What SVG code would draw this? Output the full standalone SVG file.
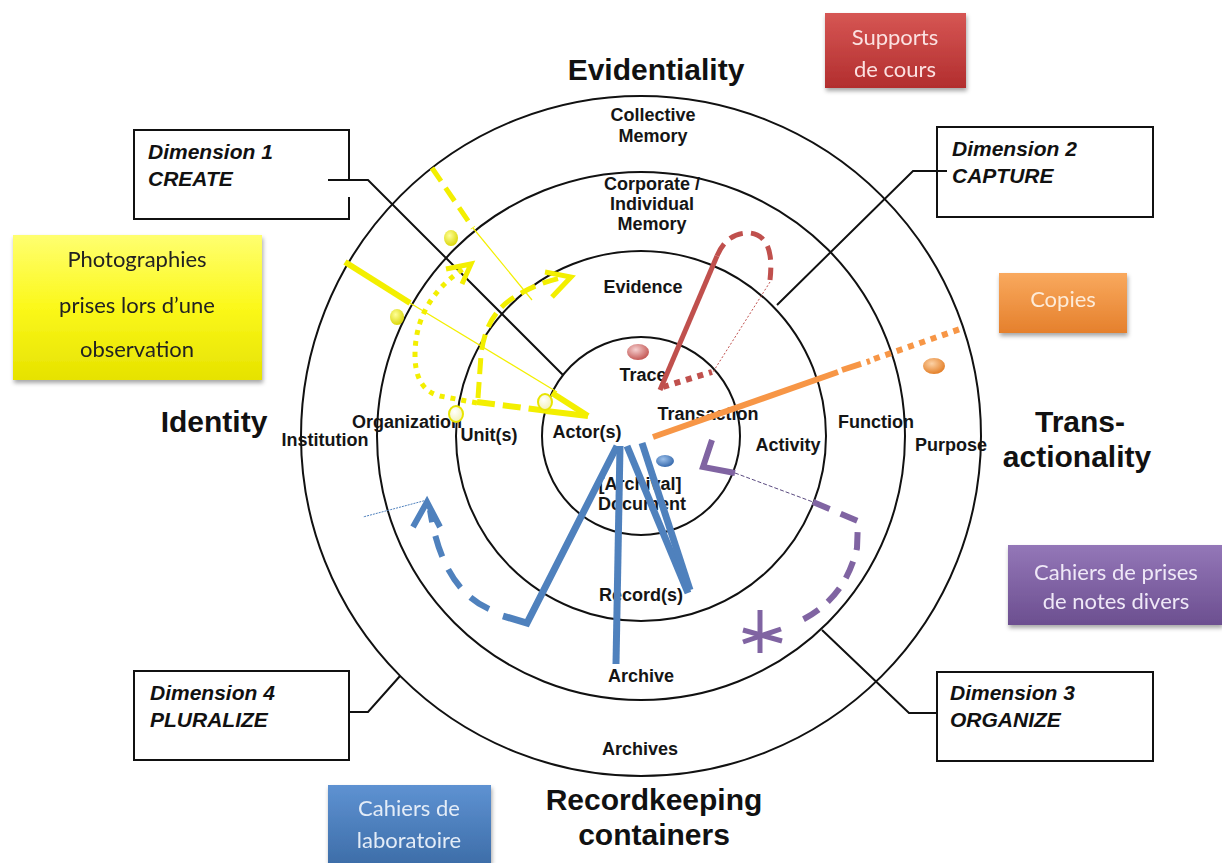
<svg xmlns="http://www.w3.org/2000/svg" width="1222" height="863" viewBox="0 0 1222 863">
<defs>
  <linearGradient id="gRed" x1="0" y1="0" x2="0" y2="1"><stop offset="0" stop-color="#d65654"/><stop offset="1" stop-color="#b22e2e"/></linearGradient>
  <linearGradient id="gOrange" x1="0" y1="0" x2="0" y2="1"><stop offset="0" stop-color="#f9a95e"/><stop offset="1" stop-color="#e5802c"/></linearGradient>
  <linearGradient id="gPurple" x1="0" y1="0" x2="0" y2="1"><stop offset="0" stop-color="#9477b8"/><stop offset="1" stop-color="#6c4f90"/></linearGradient>
  <linearGradient id="gBlue" x1="0" y1="0" x2="0" y2="1"><stop offset="0" stop-color="#5e92d2"/><stop offset="1" stop-color="#3e6ea9"/></linearGradient>
  <linearGradient id="gYellow" x1="0" y1="0" x2="0" y2="1"><stop offset="0" stop-color="#ffff70"/><stop offset="0.5" stop-color="#fbf81a"/><stop offset="1" stop-color="#e6e200"/></linearGradient>
  <radialGradient id="dRed" cx="0.4" cy="0.35" r="0.7"><stop offset="0" stop-color="#f6d0d0"/><stop offset="1" stop-color="#c0504d"/></radialGradient>
  <radialGradient id="dOrange" cx="0.4" cy="0.35" r="0.7"><stop offset="0" stop-color="#fcd2a6"/><stop offset="1" stop-color="#e27a20"/></radialGradient>
  <radialGradient id="dBlue" cx="0.4" cy="0.35" r="0.7"><stop offset="0" stop-color="#9cc0ea"/><stop offset="1" stop-color="#2f63a8"/></radialGradient>
  <radialGradient id="dYellow" cx="0.4" cy="0.35" r="0.7"><stop offset="0" stop-color="#ffff9a"/><stop offset="1" stop-color="#d8d400"/></radialGradient>
  <radialGradient id="dWhite" cx="0.4" cy="0.35" r="0.7"><stop offset="0" stop-color="#ffffff"/><stop offset="1" stop-color="#f2f0b0"/></radialGradient>
  <filter id="sh" x="-10%" y="-10%" width="125%" height="140%"><feDropShadow dx="1" dy="3" stdDeviation="2" flood-color="#000" flood-opacity="0.35"/></filter>
</defs>
<style>
  .ring{fill:none;stroke:#111;stroke-width:2}
  .ln{fill:none;stroke:#111;stroke-width:2}
  .lbl{font-family:"Liberation Sans",Arial,sans-serif;font-weight:bold;font-size:18px;fill:#151515;text-anchor:middle}
  .big{font-family:"Liberation Sans",Arial,sans-serif;font-weight:bold;font-size:30px;fill:#111;text-anchor:middle}
  .dim{font-family:"Liberation Sans",Arial,sans-serif;font-weight:bold;font-style:italic;font-size:21px;fill:#111}
  .box{font-family:Lato,"Open Sans",sans-serif;font-size:22px;text-anchor:middle}
  .y{fill:none;stroke:#f3ef00}
  .r{fill:none;stroke:#c0504d}
  .o{fill:none;stroke:#f79646}
  .p{fill:none;stroke:#8064a2}
  .b{fill:none;stroke:#4f81bd}
</style>
<rect width="1222" height="863" fill="#fff"/>

<g id="rings">
  <circle class="ring" cx="641" cy="436" r="340"/>
  <circle class="ring" cx="641" cy="436" r="264"/>
  <circle class="ring" cx="641" cy="436" r="185"/>
  <circle class="ring" cx="641" cy="436" r="99"/>
</g>

<g id="connectors">
  <polyline class="ln" points="328,180 368,180 563,375"/>
  <polyline class="ln" points="947,171 913,171 777,305"/>
  <polyline class="ln" points="822,630 909,713 937,713"/>
  <polyline class="ln" points="400,676 368,712 350,712"/>
</g>

<g id="dimension1">
  <path class="ln" d="M349,180 V130 H134 V219 H349 V197"/>
  <text class="dim" x="148" y="159">Dimension 1</text>
  <text class="dim" x="148" y="186">CREATE</text>
</g>
<g id="dimension2">
  <rect class="ln" x="937" y="127" width="216" height="90"/>
  <text class="dim" x="952" y="156">Dimension 2</text>
  <text class="dim" x="952" y="183">CAPTURE</text>
</g>
<g id="dimension3">
  <rect class="ln" x="937" y="672" width="216" height="89"/>
  <text class="dim" x="950" y="700">Dimension 3</text>
  <text class="dim" x="950" y="727">ORGANIZE</text>
</g>
<g id="dimension4">
  <rect class="ln" x="134" y="671" width="215" height="89"/>
  <text class="dim" x="150" y="700">Dimension 4</text>
  <text class="dim" x="150" y="727">PLURALIZE</text>
</g>

<g id="axes">
  <text class="big" x="656" y="80">Evidentiality</text>
  <text class="big" x="214" y="432">Identity</text>
  <text class="big" x="1080" y="432">Trans-</text>
  <text class="big" x="1077" y="467">actionality</text>
  <text class="big" x="654" y="810">Recordkeeping</text>
  <text class="big" x="654" y="845">containers</text>
</g>

<g id="ring-labels">
  <text class="lbl" x="653" y="121">Collective</text>
  <text class="lbl" x="653" y="142">Memory</text>
  <text class="lbl" x="652" y="190">Corporate /</text>
  <text class="lbl" x="652" y="210">Individual</text>
  <text class="lbl" x="652" y="230">Memory</text>
  <text class="lbl" x="643" y="293">Evidence</text>
  <text class="lbl" x="643" y="381">Trace</text>
  <text class="lbl" x="708" y="420">Transaction</text>
  <text class="lbl" x="587" y="438">Actor(s)</text>
  <text class="lbl" x="489" y="441">Unit(s)</text>
  <text class="lbl" x="407" y="428">Organization</text>
  <text class="lbl" x="325" y="446">Institution</text>
  <text class="lbl" x="788" y="451">Activity</text>
  <text class="lbl" x="876" y="428">Function</text>
  <text class="lbl" x="951" y="451">Purpose</text>
  <text class="lbl" x="640" y="490">[Archival]</text>
  <text class="lbl" x="642" y="510">Document</text>
  <text class="lbl" x="641" y="601">Record(s)</text>
  <text class="lbl" x="641" y="682">Archive</text>
  <text class="lbl" x="640" y="755">Archives</text>
</g>

<g id="annotations">
  <!-- yellow -->
  <line class="y" x1="345" y1="262" x2="410" y2="303" style="stroke-width:6"/>
  <line class="y" x1="410" y1="303" x2="557" y2="392" style="stroke-width:1.3"/>
  <line class="y" x1="552" y1="393" x2="588" y2="416" style="stroke-width:6"/>
  <line class="y" x1="477" y1="402" x2="548" y2="411" style="stroke-width:6" stroke-dasharray="18 8"/>
  <line class="y" x1="546" y1="411" x2="588" y2="416" style="stroke-width:6"/>
  <path class="y" d="M477,403 L440,396 Q415,390 415,355 Q415,300 466,267" style="stroke-width:5" stroke-dasharray="5 6"/>
  <polyline class="y" points="446,269 471,264 462,284" style="stroke-width:5"/>
  <path class="y" d="M478,398 L481,355 Q485,318 510,300 Q535,283 565,277" style="stroke-width:5" stroke-dasharray="16 8"/>
  <polyline class="y" points="545,272 571,277 552,297" style="stroke-width:5"/>
  <line class="y" x1="432" y1="168" x2="473" y2="228" style="stroke-width:5" stroke-dasharray="16 8"/>
  <line class="y" x1="473" y1="228" x2="532" y2="300" style="stroke-width:1.2"/>
  <ellipse cx="451" cy="238" rx="7" ry="8" fill="url(#dYellow)"/>
  <ellipse cx="397" cy="317" rx="7" ry="8" fill="url(#dYellow)"/>
  <ellipse cx="456" cy="414" rx="7" ry="8" fill="url(#dWhite)" stroke="#e8e400" stroke-width="2"/>
  <ellipse cx="545" cy="402" rx="7" ry="8" fill="url(#dWhite)" stroke="#e8e400" stroke-width="2"/>
  <!-- red -->
  <line class="r" x1="660" y1="390" x2="717" y2="256" style="stroke-width:5"/>
  <path class="r" d="M717,256 Q727,232 750,233 Q775,236 770,280" style="stroke-width:5" stroke-dasharray="14 8"/>
  <line class="r" x1="770" y1="282" x2="713" y2="372" style="stroke-width:1" stroke-dasharray="2 2"/>
  <line class="r" x1="663" y1="387" x2="712" y2="372" style="stroke-width:6" stroke-dasharray="6 6"/>
  <ellipse cx="638" cy="352" rx="11" ry="8" fill="url(#dRed)"/>
  <!-- orange -->
  <line class="o" x1="653" y1="437" x2="838" y2="372" style="stroke-width:6"/>
  <line class="o" x1="842" y1="370" x2="870" y2="361" style="stroke-width:6" stroke-dasharray="20 6"/>
  <line class="o" x1="874" y1="359" x2="963" y2="328" style="stroke-width:6" stroke-dasharray="6 6"/>
  <ellipse cx="934" cy="366" rx="11" ry="8" fill="url(#dOrange)"/>
  <!-- purple -->
  <polyline class="p" points="712,440 703,467 735,473" style="stroke-width:6"/>
  <line x1="735" y1="473" x2="813" y2="502" stroke="#5a4a80" stroke-width="1" stroke-dasharray="4 2"/>
  <path class="p" d="M813,502 L858,521 L857,548 Q845,600 798,622" style="stroke-width:6" stroke-dasharray="18 12"/>
  <line class="p" x1="760" y1="610" x2="760" y2="653" style="stroke-width:5"/>
  <line class="p" x1="743" y1="630" x2="782" y2="641" style="stroke-width:5"/>
  <line class="p" x1="743" y1="642" x2="781" y2="629" style="stroke-width:5"/>
  <!-- blue -->
  <polyline class="b" points="617,446 527,623 503,616" style="stroke-width:7"/>
  <line class="b" x1="620" y1="446" x2="616" y2="664" style="stroke-width:7"/>
  <line class="b" x1="627" y1="446" x2="688" y2="593" style="stroke-width:7"/>
  <line class="b" x1="642" y1="443" x2="690" y2="590" style="stroke-width:7"/>
  <path class="b" d="M489,609 Q442,588 430,510" style="stroke-width:6" stroke-dasharray="22 14"/>
  <polyline class="b" points="413,527 427,502 440,527" style="stroke-width:6"/>
  <line class="b" x1="427" y1="500" x2="363" y2="517" style="stroke-width:1" stroke-dasharray="2 1"/>
  <ellipse cx="665" cy="461" rx="9" ry="6" fill="url(#dBlue)"/>
</g>

<g id="note-supports" filter="url(#sh)">
  <rect x="825" y="13" width="141" height="75" fill="url(#gRed)"/>
  <text class="box" x="895" y="45" fill="#fbe1e1">Supports</text>
  <text class="box" x="895" y="77" fill="#fbe1e1">de cours</text>
</g>
<g id="note-copies" filter="url(#sh)">
  <rect x="999" y="273" width="128" height="60" fill="url(#gOrange)"/>
  <text class="box" x="1063" y="307" fill="#fdebd8">Copies</text>
</g>
<g id="note-cahiers-notes" filter="url(#sh)">
  <rect x="1008" y="545" width="214" height="80" fill="url(#gPurple)"/>
  <text class="box" x="1116" y="580" fill="#efe8f7">Cahiers de prises</text>
  <text class="box" x="1116" y="609" fill="#efe8f7">de notes divers</text>
</g>
<g id="note-cahiers-labo" filter="url(#sh)">
  <rect x="328" y="785" width="163" height="78" fill="url(#gBlue)"/>
  <text class="box" x="409" y="816" fill="#e3ecf7">Cahiers de</text>
  <text class="box" x="409" y="848" fill="#e3ecf7">laboratoire</text>
</g>
<g id="note-photos" filter="url(#sh)">
  <rect x="13" y="235" width="249" height="145" fill="url(#gYellow)"/>
  <text class="box" x="137" y="267" fill="#222">Photographies</text>
  <text class="box" x="137" y="313" fill="#222">prises lors d’une</text>
  <text class="box" x="137" y="357" fill="#222">observation</text>
</g>
</svg>
